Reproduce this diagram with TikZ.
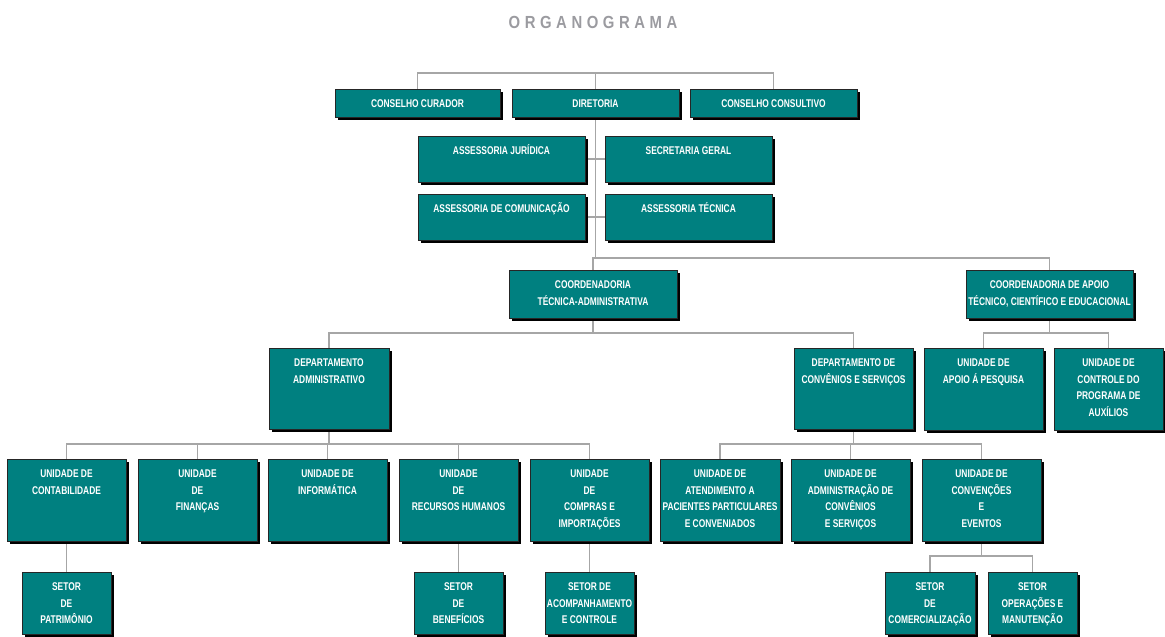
\documentclass[tikz,border=0pt]{standalone}
\usepackage{fontspec}
\setmainfont{Liberation Sans}
\newfontfamily\boxfont{Liberation Sans}[FakeStretch=0.75]
\newfontfamily\titlefont{Liberation Sans}[FakeStretch=0.85,LetterSpace=26]
\usetikzlibrary{shadows,backgrounds,calc}
\definecolor{boxteal}{RGB}{0,128,128}
\definecolor{linegray}{RGB}{166,166,166}
\definecolor{titlegray}{RGB}{155,155,160}
\tikzset{
  unitbox/.style={draw=black!85, line width=0.8pt, fill=boxteal, inner sep=0pt, outer sep=0pt,
    text=white, drop shadow={shadow xshift=3pt, shadow yshift=-3pt, fill=black, opacity=1}},
  conn/.style={draw=linegray, line width=1.8pt},
  titletext/.style={text=titlegray, inner sep=0pt}
}
\newcommand\orgbox[6]{%
  \node[unitbox, anchor=north west] (#1) at (#2,#3)
   {\parbox[c][#5pt][t]{#4pt}{\centering\boxfont\bfseries\fontsize{11.2}{16.7}\selectfont\rule{0pt}{18.5pt}#6}};}
\begin{document}
\begin{tikzpicture}[x=1pt,y=-1pt]
\useasboundingbox (0,0) rectangle (1165,637);
\node[titletext, font=\titlefont\bfseries\fontsize{17.5}{20}\selectfont] (title) at (593,22) {ORGANOGRAMA};
% top level
\orgbox{cc}{335}{89}{165}{28}{CONSELHO CURADOR}
\orgbox{dir}{512}{89}{167}{28}{DIRETORIA}
\orgbox{ccons}{690}{89}{167}{28}{CONSELHO CONSULTIVO}
% advisory
\orgbox{aj}{418}{136}{167}{46}{ASSESSORIA JURÍDICA}
\orgbox{sg}{605}{136}{167}{46}{SECRETARIA GERAL}
\orgbox{ac}{418}{194}{167}{46}{ASSESSORIA DE COMUNICAÇÃO}
\orgbox{at}{605}{194}{167}{46}{ASSESSORIA TÉCNICA}
% coordinations
\orgbox{cta}{509}{270}{168}{48}{COORDENADORIA\\TÉCNICA-ADMINISTRATIVA}
\orgbox{cap}{966}{270}{167}{48}{COORDENADORIA DE APOIO\\TÉCNICO, CIENTÍFICO E EDUCACIONAL}
% departments
\orgbox{dadm}{269}{348}{120}{81}{DEPARTAMENTO\\ADMINISTRATIVO}
\orgbox{dconv}{794}{348}{119}{81}{DEPARTAMENTO DE\\CONVÊNIOS E SERVIÇOS}
\orgbox{uap}{924}{348}{119}{82}{UNIDADE DE\\APOIO Á PESQUISA}
\orgbox{ucp}{1054}{348}{109}{82}{UNIDADE DE\\CONTROLE DO\\PROGRAMA DE\\AUXÍLIOS}
% units
\orgbox{ua}{7}{459}{119}{82}{UNIDADE DE\\CONTABILIDADE}
\orgbox{ub}{138}{459}{119}{82}{UNIDADE\\DE\\FINANÇAS}
\orgbox{uc}{268}{459}{119}{82}{UNIDADE DE\\INFORMÁTICA}
\orgbox{ud}{399}{459}{119}{82}{UNIDADE\\DE\\RECURSOS HUMANOS}
\orgbox{ue}{530}{459}{119}{82}{UNIDADE\\DE\\COMPRAS E\\IMPORTAÇÕES}
\orgbox{uf}{660}{459}{120}{82}{UNIDADE DE\\ATENDIMENTO A\\PACIENTES PARTICULARES\\E CONVENIADOS}
\orgbox{ug}{791}{459}{119}{82}{UNIDADE DE\\ADMINISTRAÇÃO DE\\CONVÊNIOS\\E SERVIÇOS}
\orgbox{uh}{922}{459}{119}{82}{UNIDADE DE\\CONVENÇÕES\\E\\EVENTOS}
% sectors
\orgbox{sa}{22}{572}{89}{62}{SETOR\\DE\\PATRIMÔNIO}
\orgbox{sd}{414}{572}{89}{62}{SETOR\\DE\\BENEFÍCIOS}
\orgbox{se}{545}{572}{89}{62}{SETOR DE\\ACOMPANHAMENTO\\E CONTROLE}
\orgbox{sf}{885}{572}{90}{62}{SETOR\\DE\\COMERCIALIZAÇÃO}
\orgbox{sg2}{988}{572}{89}{62}{SETOR\\OPERAÇÕES E\\MANUTENÇÃO}
% junctions
\coordinate (jtop) at ($(dir.north)+(0,-16)$);
\coordinate (jdir) at ($(dir.south)+(0,141)$);
\coordinate (jcta) at ($(cta.south)+(0,15)$);
\coordinate (jcap) at ($(cap.south)+(0,15)$);
\coordinate (jadm) at ($(dadm.south)+(0,15)$);
\coordinate (jconv) at ($(dconv.south)+(0,15)$);
\coordinate (jevt) at ($(uh.south)+(0,15)$);
\begin{pgfonlayer}{background}
\draw[conn] (cc.north) |- (jtop) -| (ccons.north);
\draw[conn] (dir.north) -- (jtop);
\draw[conn] (dir.south) -- (jdir);
\draw[conn] (aj.east) -- (sg.west);
\draw[conn] (ac.east) -- (at.west);
\draw[conn] (cta.north) |- (jdir) -| (cap.north);
\draw[conn] (cta.south) -- (jcta);
\draw[conn] (dadm.north) |- (jcta) -| (dconv.north);
\draw[conn] (cap.south) -- (jcap);
\draw[conn] (uap.north) |- (jcap) -| (ucp.north);
\draw[conn] (dadm.south) -- (jadm);
\draw[conn] (ua.north) |- (jadm) -| (ue.north);
\draw[conn] (ub.north) |- (jadm);
\draw[conn] (uc.north) |- (jadm);
\draw[conn] (ud.north) |- (jadm);
\draw[conn] (dconv.south) -- (jconv);
\draw[conn] (uf.north) |- (jconv) -| (uh.north);
\draw[conn] (ug.north) |- (jconv);
\draw[conn] (ua.south) -- (sa.north);
\draw[conn] (ud.south) -- (sd.north);
\draw[conn] (ue.south) -- (se.north);
\draw[conn] (uh.south) -- (jevt);
\draw[conn] (sf.north) |- (jevt) -| (sg2.north);
\end{pgfonlayer}
\end{tikzpicture}
\end{document}
